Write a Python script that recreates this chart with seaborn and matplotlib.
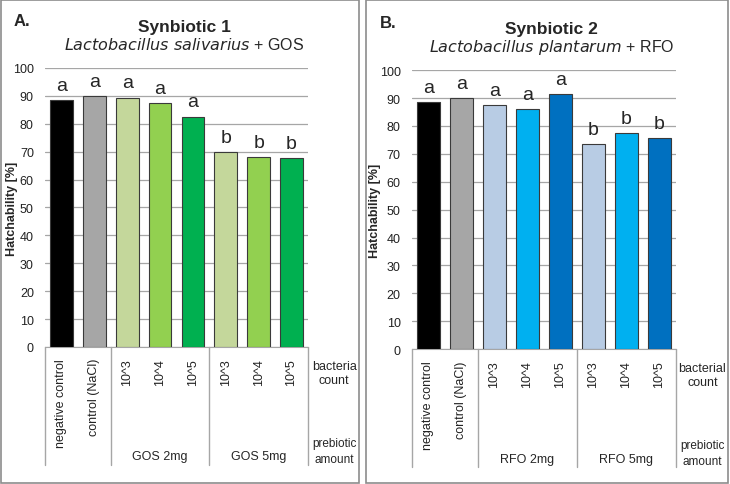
import matplotlib.pyplot as plt
import matplotlib.transforms as mtransforms
from matplotlib.patches import Rectangle
import pandas as pd
import seaborn as sns

sns.set_style('white')
plt.rcParams['font.family'] = ['Liberation Sans', 'DejaVu Sans']

# data
tick_labels = ['negative control', 'control (NaCl)', '10^3', '10^4', '10^5', '10^3', '10^4', '10^5']
hatch_a = [88.6, 90.0, 89.4, 87.3, 82.6, 70.0, 68.0, 67.6]
letters_a = ['a', 'a', 'a', 'a', 'a', 'b', 'b', 'b']
hatch_b = [88.7, 90.1, 87.5, 86.1, 91.5, 73.5, 77.6, 75.7]
letters_b = ['a', 'a', 'a', 'a', 'a', 'b', 'b', 'b']
groups_a = ['GOS 2mg', 'GOS 5mg']
groups_b = ['RFO 2mg', 'RFO 5mg']

colors_a = ['#000000', '#A6A6A6', '#C4D79B', '#92D050', '#00B050', '#C4D79B', '#92D050', '#00B050']
colors_b = ['#000000', '#A6A6A6', '#B8CCE4', '#00B0F0', '#0070C0', '#B8CCE4', '#00B0F0', '#0070C0']

fig = plt.figure(figsize=(7.3, 4.85), dpi=100)

# panel borders
for x0, w in [(0.002, 0.49), (0.501, 0.496)]:
    fig.patches.append(Rectangle((x0, 0.003), w, 0.994, transform=fig.transFigure,
                                 fill=False, edgecolor='#8c8c8c', linewidth=1.2))


def panel(ax, values, letters, colors, groups, label, title, species, prebiotic, count_lbl, ylab_x):
    df = pd.DataFrame({'pos': [str(i) for i in range(len(values))], 'value': values})
    sns.barplot(data=df, x='pos', y='value', hue='pos', palette=colors, legend=False,
                saturation=1, width=0.69, edgecolor='#3a3a3a', linewidth=0.8, ax=ax, zorder=3)
    ax.set_ylim(0, 100)
    ax.set_xlim(-0.5, 7.5)
    ax.set_yticks(range(0, 101, 10))
    ax.tick_params(axis='y', labelsize=9, length=0, pad=8, labelcolor='#222222')
    ax.yaxis.grid(True, color='#a6a6a6', linewidth=0.9, zorder=0)
    ax.set_axisbelow(True)
    ax.set_xticks(range(8))
    ax.set_xticklabels(tick_labels, rotation=90, fontsize=9, va='top', color='#222222')
    ax.tick_params(axis='x', length=0, pad=8)
    for s in ['left', 'right', 'top']:
        ax.spines[s].set_visible(False)
    ax.spines['bottom'].set_color('#a6a6a6')
    ax.set_xlabel('')
    ax.set_ylabel('')
    ax.text(ylab_x, 0.5, 'Hatchability [%]', rotation=90, ha='center', va='center',
            fontsize=9, fontweight='bold', transform=ax.transAxes)

    for i, (v, t) in enumerate(zip(values, letters)):
        ax.text(i, v + 2.2, t, ha='center', va='bottom', fontsize=14)

    trans = mtransforms.blended_transform_factory(ax.transData, ax.transAxes)
    for xs in [-0.5, 1.5, 4.5, 7.5]:
        ax.plot([xs, xs], [0, -0.423], color='#a6a6a6', linewidth=1, transform=trans, clip_on=False)
    for xc, g in zip([3, 6], groups):
        ax.text(xc, -0.392, g, ha='center', va='center', fontsize=9, transform=trans)
    ax.text(1.1, -0.093, count_lbl, ha='center', va='center', fontsize=9,
            transform=ax.transAxes, linespacing=1.3)
    ax.text(1.1, -0.373, prebiotic, ha='center', va='center', fontsize=8.5,
            transform=ax.transAxes, linespacing=1.4)

    ax.text(-0.12, 1.17, label, ha='left', va='center', fontsize=12, fontweight='bold',
            transform=ax.transAxes)
    ax.text(0.53, 1.15, title, ha='center', va='center', fontsize=12.5, fontweight='bold',
            transform=ax.transAxes)
    ax.text(0.53, 1.085, species, ha='center', va='center', fontsize=11.5,
            transform=ax.transAxes)


ax1 = fig.add_axes([0.0616, 0.2825, 0.3603, 0.5753])
ax2 = fig.add_axes([0.564, 0.278, 0.362, 0.5753])

panel(ax1, hatch_a, letters_a, colors_a, groups_a, 'A.', 'Synbiotic 1',
      '$\\it{Lactobacillus\\ salivarius}$ + GOS', 'prebiotic\namount', 'bacteria\ncount', -0.125)
panel(ax2, hatch_b, letters_b, colors_b, groups_b, 'B.', 'Synbiotic 2',
      '$\\it{Lactobacillus\\ plantarum}$ + RFO', 'prebiotic\namount', 'bacterial\ncount', -0.139)

fig.savefig('out.png', dpi=100)
